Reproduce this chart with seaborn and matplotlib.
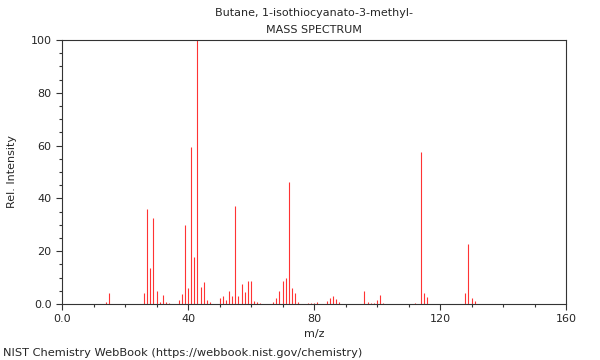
import numpy as np
import matplotlib
matplotlib.use("Agg")
import matplotlib.pyplot as plt
import seaborn as sns
from matplotlib.ticker import MultipleLocator, FixedLocator

mz = [14, 15, 26, 27, 28, 29, 30, 31, 32, 33, 34, 37, 38, 39, 40, 41, 42, 43, 44, 45, 46, 47,
      50, 51, 52, 53, 54, 55, 56, 57, 58, 59, 60, 61, 62, 63, 67, 68, 69, 70, 71, 72, 73, 74, 75,
      78, 79, 80, 81, 84, 85, 86, 87, 88, 96, 97, 98, 99, 100, 101, 102, 112, 114, 115, 116,
      128, 129, 130, 131]
intensity = [0.6, 4.0, 4.3, 35.9, 13.8, 32.7, 4.9, 0.9, 3.4, 0.8, 0.5, 1.5, 3.8, 29.9, 6.2, 59.6,
             17.7, 100.0, 6.3, 8.3, 1.5, 0.6,
             2.4, 3.0, 1.5, 4.9, 3.2, 37.1, 3.2, 7.6, 4.7, 8.8, 8.8, 1.1, 0.8, 0.3, 0.8, 2.4, 4.9,
             8.7, 9.7, 46.1, 6.2, 4.3, 0.6,
             0.3, 0.5, 0.4, 0.6, 1.1, 2.4, 3.0, 1.9, 0.6, 4.9, 0.8, 0.5, 0.5, 1.5, 3.4, 0.4, 0.4,
             57.7, 4.0, 2.7,
             4.2, 22.6, 2.1, 1.0]

title_lines = ["Butane, 1-isothiocyanato-3-methyl-", "MASS SPECTRUM"]
xticks = [0, 40, 80, 120, 160]
xticklabels = ["0.0", "40", "80", "120", "160"]
yticks = [0, 20, 40, 60, 80, 100]
yticklabels = ["0.0", "20", "40", "60", "80", "100"]

sns.set_style("ticks")
plt.rcParams['font.family'] = ['DejaVu Sans']

fig = plt.figure(figsize=(6, 3.6), dpi=100)
ax = fig.add_axes([62/600, 56/360, 504/600, 264/360])

ax.vlines(mz, 0, intensity, colors="#ff3333", linewidth=0.8)

ax.set_xlim(0, 160)
ax.set_ylim(0, 100)
ax.xaxis.set_major_locator(FixedLocator(xticks))
ax.set_xticklabels(xticklabels, fontsize=8)
ax.yaxis.set_major_locator(FixedLocator(yticks))
ax.set_yticklabels(yticklabels, fontsize=8)
ax.xaxis.set_minor_locator(MultipleLocator(10))
ax.yaxis.set_minor_locator(MultipleLocator(5))
ax.tick_params(which="major", direction="out", length=4, width=0.8, color="#333333")
ax.tick_params(which="minor", direction="out", length=2.5, width=0.8, color="#333333")
for s in ax.spines.values():
    s.set_linewidth(0.8)
    s.set_color("#333333")
    s.set_visible(True)

ax.set_xlabel("m/z", fontsize=8, labelpad=3)
ax.set_ylabel("Rel. Intensity", fontsize=8, labelpad=10)
fig.text(314/600, 1 - 13/360, title_lines[0], fontsize=8, ha="center", va="center")
fig.text(314/600, 1 - 30/360, title_lines[1], fontsize=8, ha="center", va="center")
fig.text(3/600, 1 - 353/360, "NIST Chemistry WebBook (https://webbook.nist.gov/chemistry)",
         fontsize=8.2, va="center", ha="left")

fig.savefig("out.png", dpi=100)
